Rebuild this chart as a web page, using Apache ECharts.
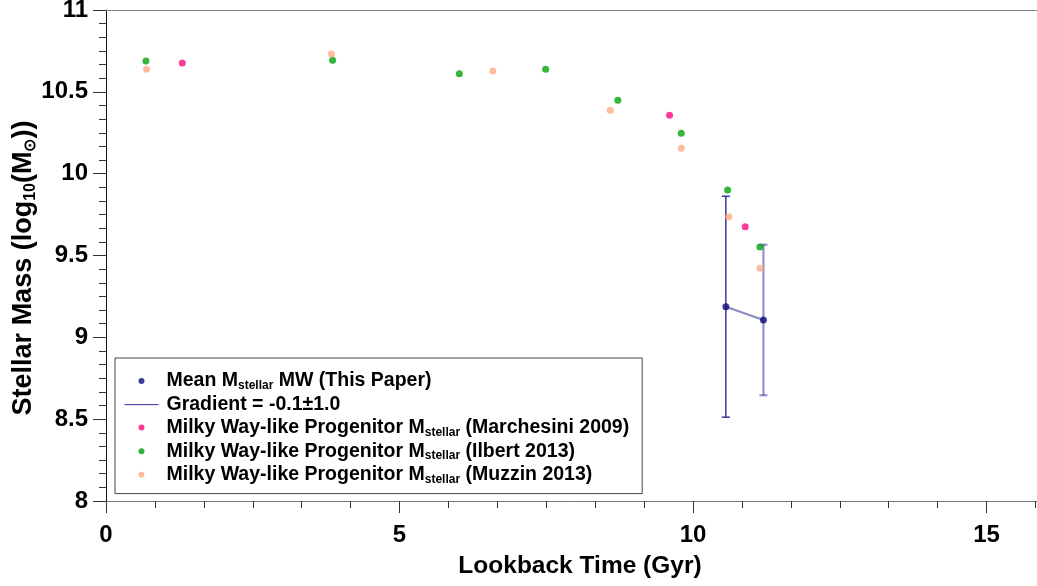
<!DOCTYPE html>
<html>
<head>
<meta charset="utf-8">
<title>Stellar mass vs lookback time</title>
<script src="https://cdn.jsdelivr.net/npm/echarts@6/dist/echarts.min.js"></script>
<style>
  html, body { margin: 0; padding: 0; background: #fff; }
  #chart { width: 1037px; height: 586px; }
</style>
</head>
<body>
<div id="chart"></div>
<script>
// Lookback time (Gyr) and log10 stellar mass for each sample
const marchesini = [[1.30, 10.676], [9.60, 10.357], [10.89, 9.676]];
const ilbert = [[0.68, 10.688], [3.86, 10.693], [6.02, 10.611], [7.49, 10.638],
                [8.72, 10.448], [9.80, 10.247], [10.59, 9.900], [11.14, 9.552]];
const muzzin = [[0.69, 10.638], [3.84, 10.731], [6.59, 10.627], [8.59, 10.387],
                [9.80, 10.155], [10.61, 9.737], [11.14, 9.422]];
// Mean MW stellar mass from this work, with symmetric errors
const meanPoints = [[10.56, 9.187], [11.20, 9.106]];
const meanErrors = [0.675, 0.46];

const xTicks = [0, 5, 10, 15];
const yTicks = [8, 8.5, 9, 9.5, 10, 10.5, 11];

const FONT = '"Liberation Sans", Arial, Helvetica, sans-serif';

const names = {
  mean: 'Mean Mstellar MW (This Paper)',
  grad: 'Gradient = -0.1±1.0',
  mar: 'Milky Way-like Progenitor Mstellar (Marchesini 2009)',
  ilb: 'Milky Way-like Progenitor Mstellar (Ilbert 2013)',
  muz: 'Milky Way-like Progenitor Mstellar (Muzzin 2013)'
};
const legendRich = {
  [names.mean]: '{b|Mean M}{s|stellar}{b| MW (This Paper)}',
  [names.grad]: '{b|Gradient = -0.1±1.0}',
  [names.mar]: '{b|Milky Way-like Progenitor M}{s|stellar}{b| (Marchesini 2009)}',
  [names.ilb]: '{b|Milky Way-like Progenitor M}{s|stellar}{b| (Ilbert 2013)}',
  [names.muz]: '{b|Milky Way-like Progenitor M}{s|stellar}{b| (Muzzin 2013)}'
};

const errorData = meanPoints.map((p, i) => [p[0], p[1], meanErrors[i]]);

const chart = echarts.init(document.getElementById('chart'), null, { renderer: 'canvas' });

// The time axis runs on past the right edge of the page; only up to ~15.8 Gyr is visible
chart.setOption({
  animation: false,
  backgroundColor: '#ffffff',
  grid: { left: 106, top: 10, width: 1174, height: 491, containLabel: false, outerBoundsMode: 'none' },
  xAxis: [{
    type: 'value', min: 0, max: 20, interval: 5,
    axisLine: { show: true, lineStyle: { color: '#777', width: 1 } },
    axisTick: { show: true, inside: false, length: 12, lineStyle: { color: '#333', width: 1 } },
    minorTick: { show: true, splitNumber: 6, length: 7, lineStyle: { color: '#333', width: 1 } },
    axisLabel: {
      margin: 22, fontSize: 24, fontWeight: 'bold', fontFamily: FONT, color: '#000',
      formatter: v => xTicks.includes(v) ? String(v) : ''
    },
    splitLine: { show: false }
  }, {
    type: 'value', position: 'top', min: 0, max: 20,
    axisLine: { show: true, onZero: false, lineStyle: { color: '#888', width: 1 } },
    axisTick: { show: false }, axisLabel: { show: false }, splitLine: { show: false }
  }],
  yAxis: {
    type: 'value', min: 8, max: 11, interval: 0.5,
    axisLine: { show: true, onZero: false, lineStyle: { color: '#111', width: 1 } },
    axisTick: { show: true, inside: false, length: 13, lineStyle: { color: '#333', width: 1 } },
    minorTick: { show: true, splitNumber: 6, length: 7, lineStyle: { color: '#333', width: 1 } },
    axisLabel: {
      margin: 18, fontSize: 24, fontWeight: 'bold', fontFamily: FONT, color: '#000',
      formatter: v => yTicks.includes(v) ? String(v) : ''
    },
    splitLine: { show: false }
  },
  legend: {
    orient: 'vertical', left: 115, top: 358,
    padding: [13, 13, 8, 9], itemGap: 2.9,
    itemWidth: 34, itemHeight: 6,
    borderColor: '#444', borderWidth: 1, backgroundColor: '#fff',
    selectedMode: false,
    data: [
      { name: names.mean, icon: 'circle' },
      { name: names.grad, lineStyle: { color: '#2a2a9a', width: 1 }, itemStyle: { opacity: 0 } },
      { name: names.mar, icon: 'circle' },
      { name: names.ilb, icon: 'circle' },
      { name: names.muz, icon: 'circle' }
    ],
    formatter: n => '{sp|}' + legendRich[n],
    textStyle: {
      rich: {
        sp: { width: 3 },
        b: { fontSize: 19.5, fontWeight: 'bold', fontFamily: FONT, color: '#000', lineHeight: 21.5 },
        s: { fontSize: 12, fontWeight: 'bold', fontFamily: FONT, color: '#000', lineHeight: 10, verticalAlign: 'bottom' }
      }
    }
  },
  graphic: [{
    type: 'text', x: 580, y: 566,
    style: { text: 'Lookback Time (Gyr)', fontSize: 24.5, fontWeight: 'bold', fontFamily: FONT,
             fill: '#000', align: 'center', verticalAlign: 'middle' }
  }, {
    type: 'text', x: 24, y: 268, rotation: Math.PI / 2,
    style: {
      text: '{b|Stellar Mass (log}{s|10}{b|(M}{s|⊙}{b|))}',
      align: 'center', verticalAlign: 'middle',
      rich: {
        b: { fontSize: 27, fontWeight: 'bold', fontFamily: FONT, fill: '#000', lineHeight: 30 },
        s: { fontSize: 16, fontWeight: 'bold', fontFamily: FONT, fill: '#000', lineHeight: 14, verticalAlign: 'bottom' }
      }
    }
  }],
  series: [{
    name: names.mar, type: 'scatter', data: marchesini, symbolSize: 7,
    itemStyle: { color: '#fb0a80' }, z: 3
  }, {
    name: names.ilb, type: 'scatter', data: ilbert, symbolSize: 7,
    itemStyle: { color: '#03a308' }, z: 3
  }, {
    name: names.muz, type: 'scatter', data: muzzin, symbolSize: 7,
    itemStyle: { color: '#ffab84' }, z: 3
  }, {
    name: 'errors', type: 'custom', data: errorData, z: 2,
    renderItem: function (params, api) {
      const x = api.value(0), y = api.value(1), e = api.value(2);
      const top = api.coord([x, y + e]);
      const bot = api.coord([x, y - e]);
      const faded = params.dataIndex > 0;
      const style = {
        stroke: faded ? 'rgba(40,40,150,0.5)' : '#1c1c8c',
        lineWidth: faded ? 2.2 : 1.3
      };
      const half = 4;
      return {
        type: 'group',
        children: [
          { type: 'line', shape: { x1: top[0], y1: top[1], x2: bot[0], y2: bot[1] }, style },
          { type: 'line', shape: { x1: top[0] - half, y1: top[1], x2: top[0] + half, y2: top[1] }, style },
          { type: 'line', shape: { x1: bot[0] - half, y1: bot[1], x2: bot[0] + half, y2: bot[1] }, style }
        ]
      };
    }
  }, {
    name: names.grad, type: 'line', data: meanPoints, showSymbol: false, symbol: 'none',
    lineStyle: { color: 'rgba(40,40,150,0.55)', width: 2 }, itemStyle: { color: '#2a2a9a' }, z: 3
  }, {
    name: names.mean, type: 'scatter', data: meanPoints, symbolSize: 7,
    itemStyle: { color: '#0c0c7c' }, z: 4
  }]
});
</script>
</body>
</html>
